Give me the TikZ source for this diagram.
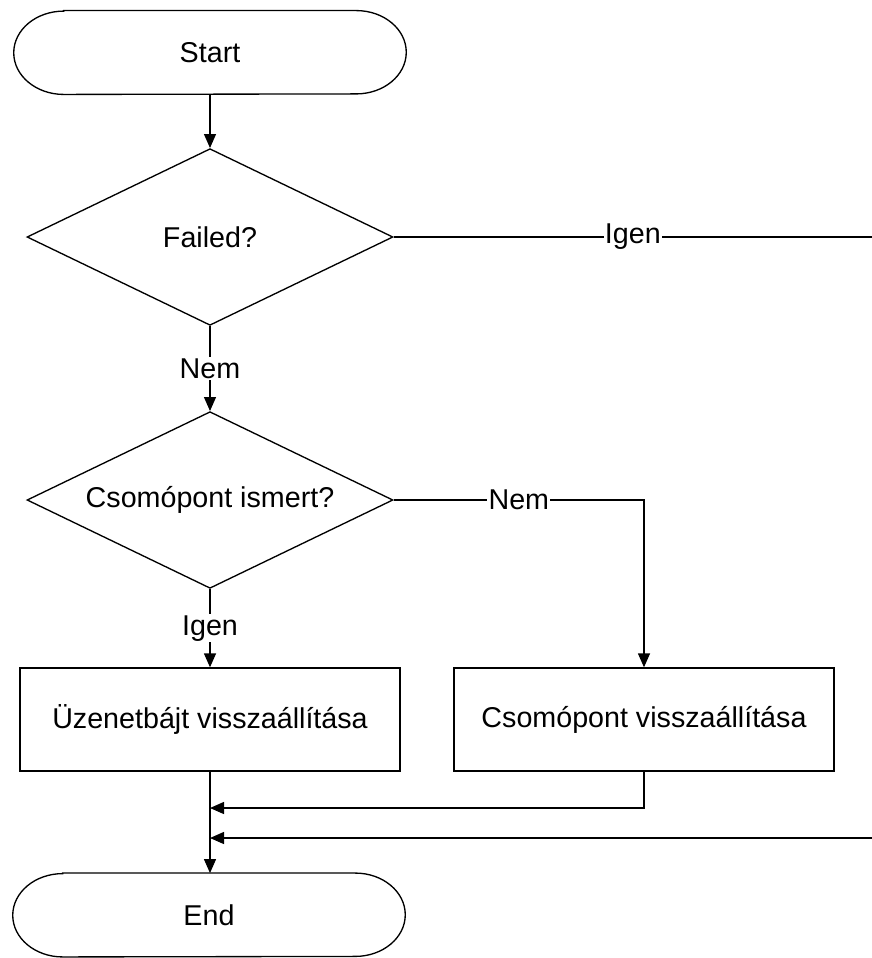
\documentclass[tikz,border=0pt]{standalone}
\usepackage{fontspec}
\setmainfont{Liberation Sans}
\usetikzlibrary{shapes.geometric,arrows.meta}
\newcommand\termshape[1]{%
  \draw[line] ([xshift=37.5pt]#1.north west) -- ([xshift=-37.5pt]#1.north east)
    arc[start angle=90,end angle=-90,x radius=37.5pt,y radius=31.25pt]
    -- ([xshift=37.5pt]#1.south west)
    arc[start angle=270,end angle=90,x radius=37.5pt,y radius=31.25pt] -- cycle;}
\begin{document}
\begin{tikzpicture}[x=0.75pt,y=-0.75pt,
  font=\fontsize{21.5}{26}\selectfont,
  line/.style={line width=1pt,black},
  arr/.style={line,-{Triangle[length=10.5pt,width=9pt]}},
  terminal/.style={rectangle,inner sep=0pt,minimum width=294pt,minimum height=62.5pt},
  decision/.style={diamond,draw,line,aspect=2.07,inner sep=0pt,minimum width=274.5pt,minimum height=132.5pt},
  process/.style={rectangle,draw,line,inner sep=0pt,minimum width=285pt,minimum height=77.25pt},
  lbl/.style={fill=white,inner sep=1pt}]
\useasboundingbox (0,0) rectangle (872,958);
\node[terminal] (s) at (210,52.5) {Start};
\termshape{s}
\node[decision] (d1) at (210,237) {Failed?};
\node[decision] (d2) at (210,500) {Csomópont ismert?};
\node[process] (b1) at (210,719.5) {Üzenetbájt visszaállítása};
\node[process] (b2) at (644,719.5) {Csomópont visszaállítása};
\node[terminal] (e) at (209,915) {End};
\termshape{e}
\coordinate (r1) at (872,237);
\coordinate (j1) at (210,808);
\coordinate (j2) at (210,838);
\coordinate (r2) at (872,838);
\draw[arr] (s) -- (d1);
\draw[line] (d1.east) -- node[lbl]{Igen} (r1);
\draw[arr] (d1) -- node[lbl]{Nem} (d2);
\draw[arr] (d2.east) -- node[lbl]{Nem} (d2.east -| b2.north) -- (b2.north);
\draw[arr] (d2) -- node[lbl]{Igen} (b1);
\draw[arr] (b1) -- (b1 |- e.north);
\draw[arr] (b2.south) |- (j1);
\draw[arr] (r2) -- (j2);
\end{tikzpicture}
\end{document}
